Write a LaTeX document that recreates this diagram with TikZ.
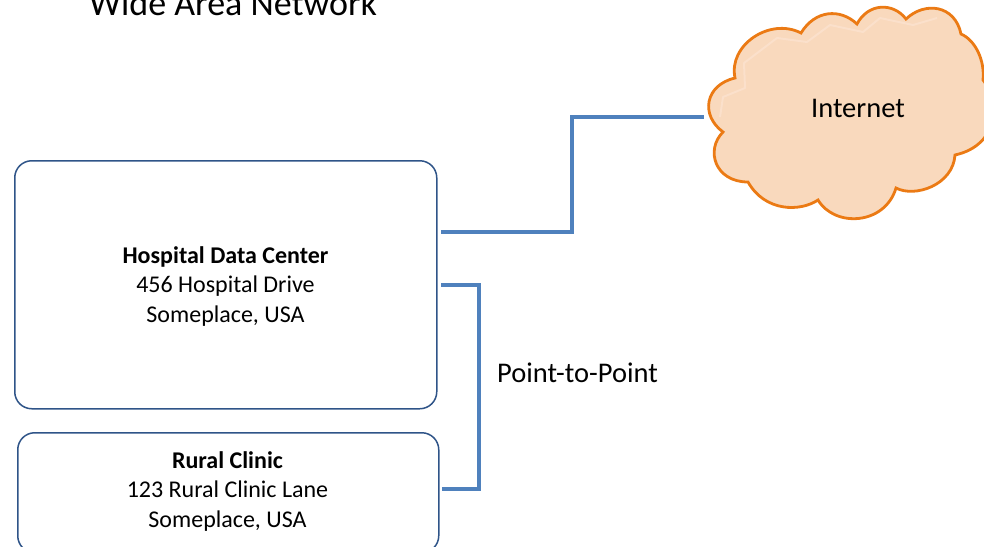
\documentclass[tikz,border=0pt]{standalone}
\usepackage{fontspec}
\setmainfont{Carlito}
\definecolor{boxline}{HTML}{2F5488}
\definecolor{link}{HTML}{4F81BD}
\definecolor{cloudline}{HTML}{EB7A14}
\definecolor{cloudfill}{HTML}{F9D9BD}
\definecolor{cloudglow}{HTML}{FBE0CB}
\tikzset{
  sitebox/.style={draw=boxline,line width=1.5pt,rounded corners=17pt,fill=white,anchor=north west,inner sep=0pt},
  linkline/.style={draw=link,line width=3.6pt},
  sitetext/.style={font=\fontsize{24}{29.3}\selectfont,align=center,text=black},
  bigtext/.style={font=\fontsize{28.5}{34}\selectfont,text=black},
}
\begin{document}
\begin{tikzpicture}[x=1pt,y=-1pt]
\useasboundingbox (0,0) rectangle (984,546);
\clip (0,0) rectangle (984,546);
\node[sitebox,minimum width=422pt,minimum height=248pt] (hospital) at (14,160) {};
\node[sitebox,minimum width=421pt,minimum height=120pt] (clinic) at (17,432) {};
\node[sitetext] (hospitaltext) at (225.5,286.3) {\textbf{Hospital Data Center}\\456 Hospital Drive\\Someplace, USA};
\node[sitetext] (clinictext) at (227.5,491.3) {\textbf{Rural Clinic}\\123 Rural Clinic Lane\\Someplace, USA};
\node[bigtext,font=\fontsize{36}{40}\selectfont] (title) at (233,3) {Wide Area Network};
\node[bigtext] (p2p) at (577.5,373) {Point-to-Point};
\fill[cloudfill] (735,78)
  .. controls (728,45) and (770,17) .. (801,33)
  .. controls (815,10) and (840,8) .. (857,24)
  .. controls (868,3) and (893,2) .. (906,19)
  .. controls (925,1) and (955,5) .. (961,34)
  .. controls (975,40) and (985,60) .. (983,80)
  .. controls (1000,100) and (1000,145) .. (955,155)
  .. controls (953,185) and (915,198) .. (896,188)
  .. controls (885,225) and (835,228) .. (818,200)
  .. controls (800,212) and (765,212) .. (748,182)
  .. controls (715,182) and (705,150) .. (723,132)
  .. controls (700,115) and (705,85) .. (735,78) -- cycle;
\draw[cloudglow,line width=2pt,line join=round] (720,117) -- (723,97) -- (745,88) -- (744,63) -- (777,38) -- (807,42) -- (830,25) -- (863,32) -- (880,18) -- (913,25) -- (937,18);
\draw[cloudline,line width=2.8pt,line join=miter] (735,78)
  .. controls (728,45) and (770,17) .. (801,33)
  .. controls (815,10) and (840,8) .. (857,24)
  .. controls (868,3) and (893,2) .. (906,19)
  .. controls (925,1) and (955,5) .. (961,34)
  .. controls (975,40) and (985,60) .. (983,80)
  .. controls (1000,100) and (1000,145) .. (955,155)
  .. controls (953,185) and (915,198) .. (896,188)
  .. controls (885,225) and (835,228) .. (818,200)
  .. controls (800,212) and (765,212) .. (748,182)
  .. controls (715,182) and (705,150) .. (723,132)
  .. controls (700,115) and (705,85) .. (735,78) -- cycle;
\coordinate (cloudport) at (704,117);
\coordinate (hospitalinet) at (441,232);
\coordinate (hospitalptp) at (441,285);
\coordinate (clinicptp) at (442,489);
\node[bigtext] (internet) at (858,108) {Internet};
\draw[linkline] (hospitalinet) -| (572,117) -- (cloudport);
\draw[linkline] (hospitalptp) -| (479,489) -- (clinicptp);
\end{tikzpicture}
\end{document}
